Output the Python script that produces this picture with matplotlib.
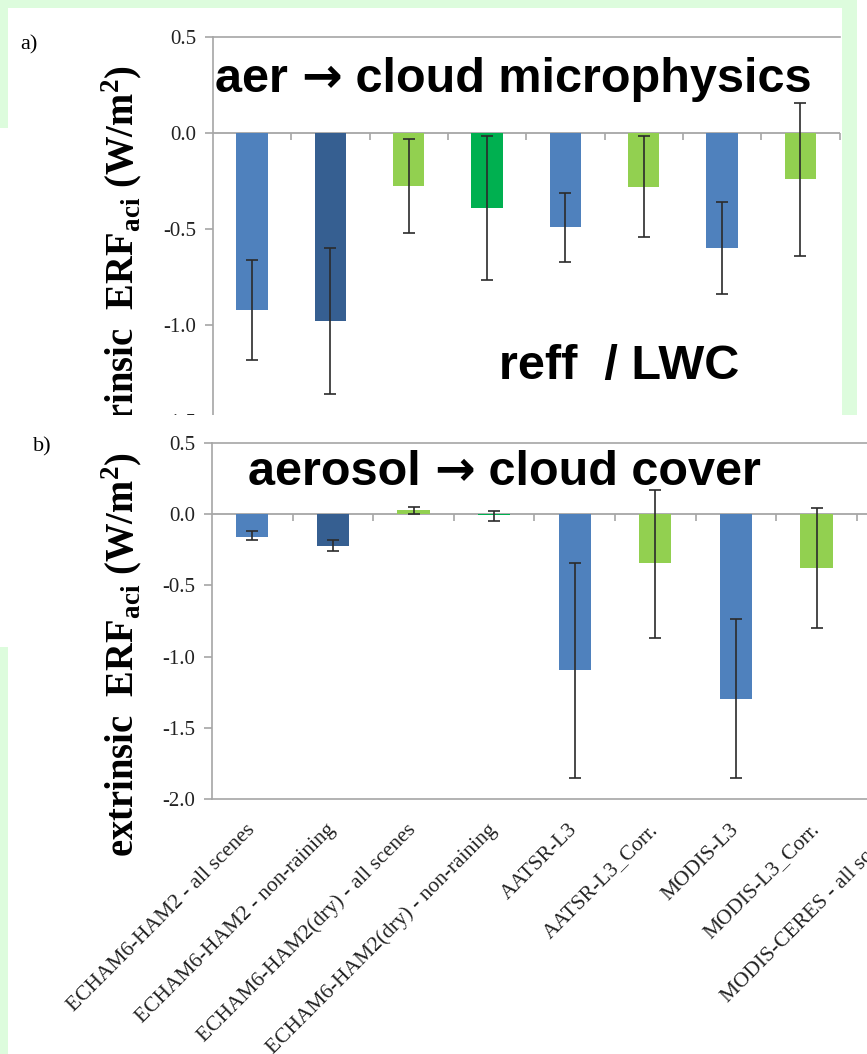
"""
ERF_aci bar charts: aerosol -> cloud microphysics (a) and aerosol -> cloud cover (b)
"""
import numpy as np
import matplotlib
matplotlib.use("Agg")
import matplotlib.pyplot as plt
from matplotlib.patches import Rectangle

plt.rcParams['axes.unicode_minus'] = False
plt.rcParams['mathtext.fontset'] = 'custom'
plt.rcParams['mathtext.rm'] = 'Liberation Serif'
plt.rcParams['mathtext.bf'] = 'Liberation Serif:bold'

# --- data ---
labels_a = ["ECHAM6-HAM2 - all scenes", "ECHAM6-HAM2 - non-raining",
            "ECHAM6-HAM2(dry) - all scenes", "ECHAM6-HAM2(dry) - non-raining",
            "AATSR-L3", "AATSR-L3_Corr.", "MODIS-L3", "MODIS-L3_Corr."]
erf_a = [-0.92, -0.98, -0.275, -0.39, -0.49, -0.28, -0.60, -0.24]
low_a = [-1.18, -1.36, -0.52, -0.765, -0.67, -0.54, -0.84, -0.64]
high_a = [-0.66, -0.60, -0.03, -0.018, -0.31, -0.015, -0.36, 0.155]

labels_b = labels_a + ["MODIS-CERES - all scenes"]
erf_b = [-0.157, -0.22, 0.026, -0.005, -1.094, -0.346, -1.297, -0.381, np.nan]
low_b = [-0.18, -0.26, 0.0, -0.045, -1.856, -0.867, -1.856, -0.80, np.nan]
high_b = [-0.12, -0.18, 0.05, 0.023, -0.344, 0.173, -0.736, 0.042, np.nan]

yticks = [0.5, 0.0, -0.5, -1.0, -1.5, -2.0]

LBLUE, DBLUE, LGREEN, GREEN = '#4F81BD', '#365F91', '#92D050', '#00B050'
colors = [LBLUE, DBLUE, LGREEN, GREEN, LBLUE, LGREEN, LBLUE, LGREEN, LBLUE]
MINT = '#DDFCDD'
GRAY = '#A6A6A6'

W, H = 867, 1054


def fx(x):
    return x / W


def fy(y):
    return 1 - y / H


def fig_rect(fig, x0, y0, x1, y1, color, z):
    """rectangle in pixel coords (origin top-left)"""
    r = Rectangle((fx(x0), fy(y1)), fx(x1) - fx(x0), fy(y0) - fy(y1),
                  transform=fig.transFigure, facecolor=color,
                  edgecolor='none', zorder=z)
    fig.patches.append(r)


def draw_panel(ax, vals, lows, highs, n, ymin):
    x = np.arange(n)
    vals = np.asarray(vals, dtype=float)
    yerr = [vals - np.asarray(lows), np.asarray(highs) - vals]
    ax.bar(x, vals, width=0.4, color=colors[:n], zorder=2)
    ax.errorbar(x, vals, yerr=yerr, fmt='none', ecolor='#2b2b2b',
                elinewidth=1.2, capsize=4.5, capthick=1.2, zorder=3)
    ax.axhline(0, color=GRAY, lw=1.3, zorder=1)
    bounds = np.arange(n) + 0.5
    ax.plot(bounds, np.zeros_like(bounds), ls='none', marker=3, ms=5,
            mew=1.2, color=GRAY, zorder=1)
    ax.set_xlim(-0.5, n - 0.5)
    ax.set_ylim(ymin, 0.5)
    ticks = [t for t in yticks if t >= ymin]
    ax.set_yticks(ticks)
    ax.set_yticklabels([f'{v:.1f}' for v in ticks],
                       family='Liberation Serif', fontsize=15, color='#222222')
    ax.tick_params(axis='y', direction='out', length=6, width=1.2,
                   color=GRAY, pad=6)
    for s in ['left', 'top', 'bottom']:
        ax.spines[s].set_color(GRAY)
        ax.spines[s].set_linewidth(1.2)
    ax.spines['right'].set_visible(False)


def title_pieces(fig, x, y, pieces, z):
    """write text pieces one after another on the same baseline"""
    renderer = fig.canvas.get_renderer()
    for s, fam in pieces:
        t = fig.text(fx(x), fy(y), s, family=fam, weight='bold',
                     fontsize=35, va='baseline', ha='left', zorder=z)
        x += t.get_window_extent(renderer).width


SANS = ['Liberation Sans', 'DejaVu Sans']
ARROW = ['DejaVu Sans']

fig = plt.figure(figsize=(W / 100, H / 100), dpi=100)
fig.patch.set_facecolor('white')

# panel a (its lower part lies under panel b)
ax_a = fig.add_axes([fx(213), fy(469), fx(839.5) - fx(213), fy(37) - fy(469)])
ax_a.set_zorder(0)
draw_panel(ax_a, erf_a, low_a, high_a, len(labels_a), -1.75)
ax_a.set_xticks([])

ylab = r'extrinsic  ERF$_{\mathbf{aci}}$ (W/m$^{\mathbf{2}}$)'
fig.text(fx(122), fy(65), ylab, rotation=90, ha='center', va='top',
         family='Liberation Serif', weight='bold', fontsize=27.8, zorder=0.5)
fig.text(fx(20), fy(45), 'a)', family='Liberation Serif', fontsize=16,
         va='center', zorder=0.5)

title_pieces(fig, 215, 92, [('aer ', SANS), ('\u2192', ARROW),
                            (' cloud microphysics', SANS)], 0.6)
title_pieces(fig, 499, 379, [('reff  / LWC', SANS)], 0.6)

# mint frame pieces and the white sheet of panel b lying over panel a
fig_rect(fig, 0, 0, 857, 8, MINT, 1)
fig_rect(fig, 0, 8, 8, 128, MINT, 1)
fig_rect(fig, 842, 0, 857, 415, MINT, 1)
fig_rect(fig, 0, 415, W, H, 'white', 1.2)
fig_rect(fig, 0, 647, 8, H, MINT, 1.3)

# panel b
n_b = len(labels_b)
ax_b = fig.add_axes([fx(212), fy(799), n_b * 80.6 / W, fy(443) - fy(799)])
ax_b.set_zorder(2)
draw_panel(ax_b, erf_b, low_b, high_b, n_b, -2.0)
ax_b.set_xticks(np.arange(n_b))
ax_b.set_xticklabels(labels_b, rotation=45, ha='right', va='center',
                     rotation_mode='anchor', family='Liberation Serif',
                     fontsize=15.5, color='#222222')
ax_b.tick_params(axis='x', length=0, pad=20)

fig.text(fx(122), fy(452), ylab, rotation=90, ha='center', va='top',
         family='Liberation Serif', weight='bold', fontsize=27.8, zorder=3)
fig.text(fx(33), fy(447), 'b)', family='Liberation Serif', fontsize=16,
         va='center', zorder=3)
title_pieces(fig, 248, 485, [('aerosol ', SANS), ('\u2192', ARROW),
                             (' cloud cover', SANS)], 3)

fig.savefig('out.png', dpi=100)
